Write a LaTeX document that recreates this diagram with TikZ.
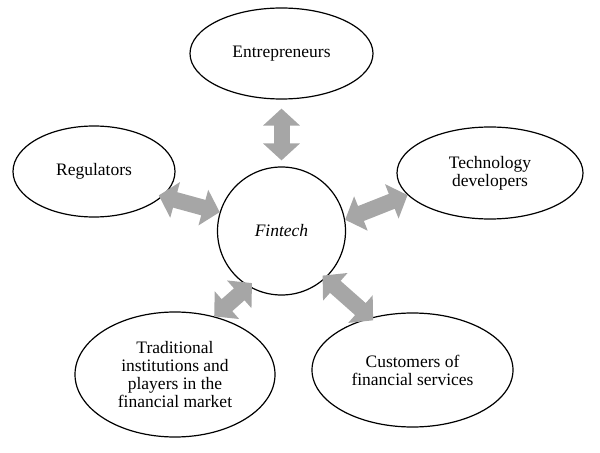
\documentclass[tikz,border=0pt]{standalone}
\usepackage{fontspec}
\setmainfont{Liberation Serif}
\usetikzlibrary{shapes.geometric,arrows.meta}
\tikzset{
  actor/.style={draw=black, line width=1.2bp, ellipse, inner sep=0pt, align=center,
    font=\fontsize{17.5bp}{18bp}\selectfont},
  hub/.style={draw=black, line width=1.2bp, circle, inner sep=0pt, minimum size=128bp,
    font=\fontsize{17.5bp}{18bp}\selectfont\itshape},
  link/.style={draw=black!35, line width=16bp,
    {Triangle[length=17bp,width=36bp]}-{Triangle[length=17bp,width=36bp]}}
}
\begin{document}
\begin{tikzpicture}[x=1bp,y=-1bp]
\useasboundingbox (0,0) rectangle (600,453);
\node[hub] (fin) at (281.5,231) {Fintech};
\node[actor, minimum width=183bp, minimum height=91bp] (ent) at (281.5,53.5) {Entrepreneurs};
\node[actor, minimum width=162bp, minimum height=91bp] (reg) at (94,171.5) {Regulators};
\node[actor, minimum width=186bp, minimum height=92bp] (tech) at (490,173) {Technology\\developers};
\node[actor, minimum width=200bp, minimum height=125bp] (trad) at (175,374.5) {Traditional\\institutions and\\players in the\\financial market};
\node[actor, minimum width=201bp, minimum height=114bp] (cust) at (412.5,370) {Customers of\\financial services};
\draw[link, shorten <=9bp, shorten >=6bp] (ent.south) -- (fin.north);
\draw[link, shorten <=-4bp, shorten >=0bp] (reg.-20) -- (fin.163);
\draw[link, shorten <=0bp, shorten >=0bp] (tech.195) -- (fin.10);
\draw[link, shorten <=0bp, shorten >=-5bp] (trad.56) -- (fin.-121);
\draw[link, shorten <=-4bp, shorten >=-4bp] (cust.129) -- (fin.-47);
\end{tikzpicture}
\end{document}
